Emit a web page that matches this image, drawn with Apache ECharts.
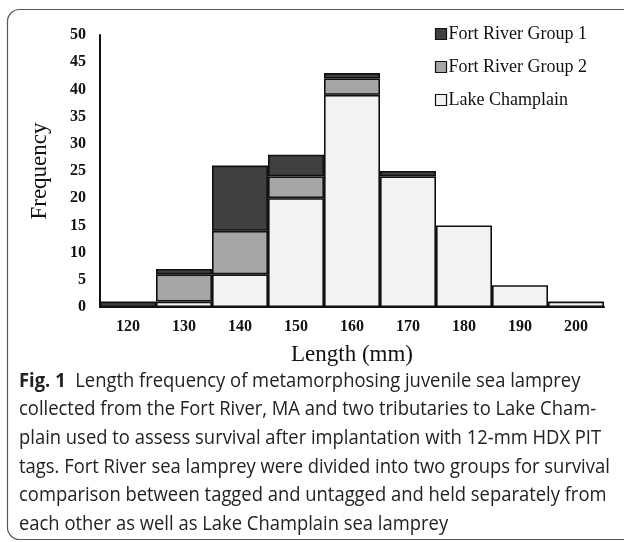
<!DOCTYPE html>
<html><head><meta charset="utf-8">
<script src="https://cdn.jsdelivr.net/npm/echarts@6/dist/echarts.min.js"></script>
<style>html,body{margin:0;padding:0;background:#fff}#c{width:624px;height:542px}</style>
</head><body><div id="c"></div>
<script>
const categories = ['120','130','140','150','160','170','180','190','200'];
const lakeChamplain = [0,1,6,20,39,24,15,4,1];
const fortRiverGroup2 = [0,5,8,4,3,0,0,0,0];
const fortRiverGroup1 = [1,1,12,4,1,1,0,0,0];
const yTicks = {min:0, max:50, interval:5};
const captionLines = [
  'Length frequency of metamorphosing juvenile sea lamprey',
  'collected from the Fort River, MA and two tributaries to Lake Cham-',
  'plain used to assess survival after implantation with 12-mm HDX PIT',
  'tags. Fort River sea lamprey were divided into two groups for survival',
  'comparison between tagged and untagged and held separately from',
  'each other as well as Lake Champlain sea lamprey'
];

const serif = '"Liberation Serif","Times New Roman",serif';
const sans = '"Open Sans","Noto Sans",sans-serif';
const nz = a => a.map(v => v === 0 ? null : v);
function mk(name, data, color){
  return {name, type:'bar', stack:'s', data:nz(data), barWidth:'100%', barCategoryGap:'0%',
    itemStyle:{color, borderColor:'#111', borderWidth:1.6}};
}
const chart = echarts.init(document.getElementById('c'));
const capGraphics = captionLines.map((t,i)=>({
  type:'text', x:19, y:381 + i*28.6, scaleX:0.92,
  style:{text: i===0 ? '{b|Fig. 1}  ' + t : t, fontFamily:sans, fontSize:20, fill:'#222',
    verticalAlign:'middle', align:'left',
    rich:{b:{fontWeight:'bold', fontFamily:sans, fontSize:20, fill:'#222'}}}
}));
chart.setOption({
  animation:false,
  backgroundColor:'#fff',
  grid:{left:100, right:20, top:35, bottom:235, containLabel:false},
  legend:{orient:'vertical', right:32, top:20, itemGap:15, itemWidth:11, itemHeight:11,
    icon:'rect', data:['Fort River Group 1','Fort River Group 2','Lake Champlain'],
    itemStyle:{borderColor:'#111', borderWidth:1.2},
    textStyle:{fontFamily:serif, fontSize:18, color:'#111', padding:[0,0,0,-3]}},
  xAxis:{type:'category', data:categories, name:'Length (mm)', nameLocation:'middle', nameGap:36,
    nameTextStyle:{fontFamily:serif, fontSize:23, color:'#111'},
    axisLine:{lineStyle:{color:'#111', width:2}}, axisTick:{show:false},
    axisLabel:{fontFamily:serif, fontWeight:'bold', fontSize:16, color:'#111', margin:12}},
  yAxis:{type:'value', min:yTicks.min, max:yTicks.max, interval:yTicks.interval,
    name:'Frequency', nameLocation:'middle', nameGap:49, nameRotate:90,
    nameTextStyle:{fontFamily:serif, fontSize:23, color:'#111'},
    axisLine:{show:true, lineStyle:{color:'#111', width:2}}, axisTick:{show:false}, splitLine:{show:false},
    axisLabel:{fontFamily:serif, fontWeight:'bold', fontSize:16, color:'#111', margin:14}},
  graphic:[{type:'rect', shape:{x:7.5, y:9.5, width:700, height:530, r:12}, style:{fill:'none', stroke:'#555', lineWidth:1.2}, z:-1}].concat(capGraphics),
  series:[
    mk('Lake Champlain', lakeChamplain, '#f2f2f2'),
    mk('Fort River Group 2', fortRiverGroup2, '#a6a6a6'),
    mk('Fort River Group 1', fortRiverGroup1, '#404040')
  ]
});
</script></body></html>
